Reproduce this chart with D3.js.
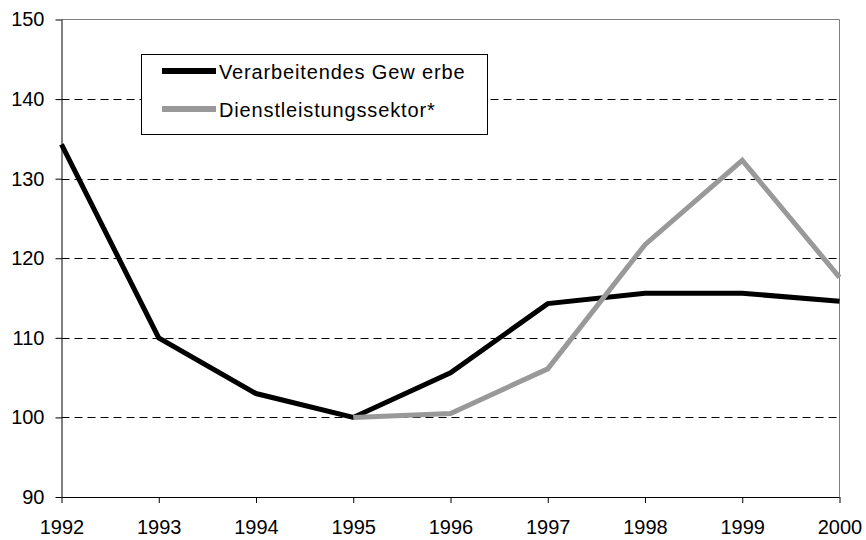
<!DOCTYPE html>
<html><head><meta charset="utf-8">
<script src="https://cdn.jsdelivr.net/npm/d3@7"></script>
<style>html,body{margin:0;padding:0;background:#fff;}svg{display:block;}</style>
</head><body>
<svg id="c" width="866" height="540"></svg>
<script>
const years = [1992,1993,1994,1995,1996,1997,1998,1999,2000];
const yTicks = [90,100,110,120,130,140,150];
const seriesNames = ["Verarbeitendes Gew erbe","Dienstleistungssektor*"];
const manufacturing = [134.3,110,103,100,105.6,114.3,115.6,115.6,114.6];
const services = [null,null,null,100,100.5,106.1,121.7,132.3,117.6];
const colors = ["#000000","#999999"];

const svg = d3.select("#c");
const L=61.5, R=839.5, T=19.5, B=497;
const x = d3.scaleLinear().domain([1992,2000]).range([L,R]);
const y = d3.scaleLinear().domain([90,150]).range([B,T]);
const font = "Liberation Sans, Arial, sans-serif";

// gridlines
svg.append("g").selectAll("line").data(yTicks.filter(d=>d>90&&d<150)).join("line")
  .attr("x1",L).attr("x2",R).attr("y1",d=>Math.round(y(d))+0.5).attr("y2",d=>Math.round(y(d))+0.5)
  .attr("stroke","#000").attr("stroke-width",1).attr("stroke-dasharray","8,5");
// top & right border
svg.append("line").attr("x1",L).attr("x2",R).attr("y1",T).attr("y2",T).attr("stroke","#808080");
svg.append("line").attr("x1",R).attr("x2",R).attr("y1",T).attr("y2",B).attr("stroke","#808080");

// axes
const yAxis = d3.axisLeft(y).tickValues(yTicks).tickSize(6).tickPadding(11).tickFormat(d3.format("d"));
const gy = svg.append("g").attr("transform",`translate(${L},0)`).call(yAxis);
const xAxis = d3.axisBottom(x).tickValues(years).tickSize(6).tickPadding(17).tickFormat(d3.format("d"));
const gx = svg.append("g").attr("transform",`translate(0,${B})`).call(xAxis);
[gx,gy].forEach(g=>{
  g.selectAll("path,line").attr("stroke","#000");
  g.selectAll("text").attr("font-family",font).attr("font-size",20).attr("fill","#000");
});
gx.select(".domain").attr("d",`M${L},0.5H${R}`);
gy.select(".domain").attr("d",`M0.5,${T}V${B}`);

// lines
const line = d3.line().defined(d=>d[1]!=null).x(d=>x(d[0])).y(d=>y(d[1]));
[manufacturing, services].forEach((s,i)=>{
  svg.append("path").datum(years.map((yr,j)=>[yr,s[j]]))
    .attr("d",line).attr("fill","none").attr("stroke",colors[i]).attr("stroke-width",5)
    .attr("stroke-linejoin","miter");
});

// legend
const lg = svg.append("g");
lg.append("rect").attr("x",141.5).attr("y",54.5).attr("width",346).attr("height",80)
  .attr("fill","#fff").attr("stroke","#000").attr("stroke-width",1);
seriesNames.forEach((n,i)=>{
  const cy = 71 + i*38;
  lg.append("line").attr("x1",162).attr("x2",216).attr("y1",cy).attr("y2",cy)
    .attr("stroke",colors[i]).attr("stroke-width",6);
  lg.append("text").attr("x",219).attr("y",cy+7.5).text(n)
    .attr("font-family",font).attr("font-size",20).attr("letter-spacing",0.85).attr("fill","#000");
});
</script>
</body></html>
